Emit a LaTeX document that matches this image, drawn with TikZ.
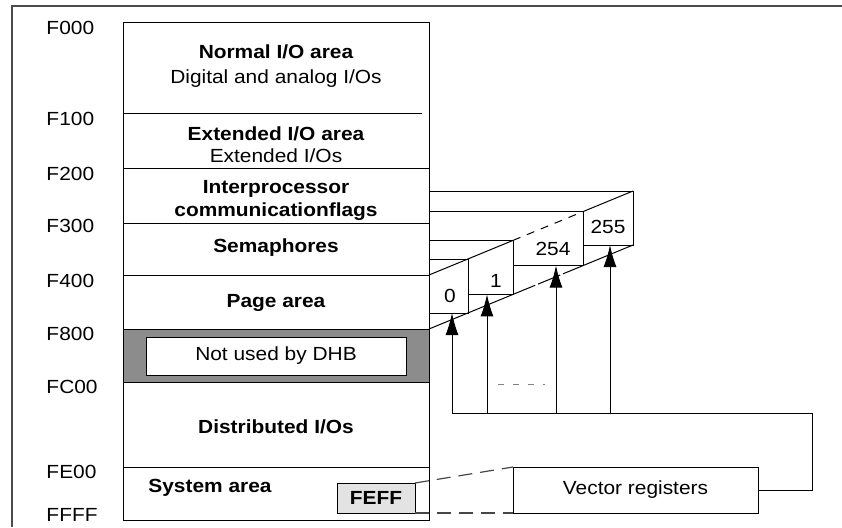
\documentclass[tikz,border=0pt]{standalone}
\usepackage{fontspec}
\setmainfont{Liberation Sans}[FakeStretch=1.1]
\usetikzlibrary{arrows.meta,positioning,calc}

\begin{document}
\begin{tikzpicture}[x=0.5pt, y=-0.5pt,
 line width=0.5pt, font=\fontsize{9.5}{11}\selectfont,
 lbl/.style={inner sep=0pt, anchor=base},
 hd/.style={lbl, font=\fontsize{9.5}{11}\selectfont\bfseries},
 box/.style={draw, inner sep=0pt, outer sep=0pt},
 pg/.style={box, fill=white, minimum height=27pt, anchor=north east},
 arr/.style={-{Latex[length=11pt,width=6.5pt]}},
 link/.style={gray!55!black, line width=0.6pt, dash pattern=on 7pt off 4pt}]
\useasboundingbox (0,0) rectangle (842,527);
% cadre
\draw[gray!60!black, line width=1pt] (842,6) -- (12,6) -- (12,527);
% memoire
\node[box, minimum width=153pt, minimum height=249pt, anchor=north west] (mem) at (123,22) {};
\draw[fill=black!45] (123,329) rectangle (429,382);
\draw (123,113) -- (422,113);
\foreach \y in {168,223,275,467} \draw (123,\y) -- (429,\y);
\foreach \y/\a in {34/F000,125/F100,180/F200,232/F300,287/F400,340/F800,393/FC00,478/FE00,521/FFFF}
  \node[lbl, anchor=base west] (\a) at (46,\y) {\a};
\node[hd] (nio) at (276,58) {Normal I/O area};
\node[lbl] (dio) at (276,83) {Digital and analog I/Os};
\node[hd] (eio) at (276,140) {Extended I/O area};
\node[lbl] (eios) at (276,162) {Extended I/Os};
\node[hd] (ipc) at (276,193) {Interprocessor};
\node[hd] (ipcf) at (276,216) {communicationflags};
\node[hd] (sem) at (276,252) {Semaphores};
\node[hd] (pga) at (276,307) {Page area};
\node[box, fill=white, minimum width=130pt, minimum height=19pt] (nub) at (276,356) {Not used by DHB};
\node[hd] (dist) at (276,433) {Distributed I/Os};
\node[hd] (sys) at (210,492) {System area};
\node[box, fill=gray!22, minimum width=39pt, minimum height=15pt, font=\fontsize{9.5}{11}\selectfont\bfseries] (feff) at (376,498) {FEFF};
% pages
\node[pg, minimum width=102pt] (p255) at (633,191) {};
\node[pg, minimum width=77pt] (p254) at (583,211.6) {};
\node[pg, minimum width=42pt] (p1) at (513,240.4) {};
\node[pg, minimum width=19.5pt] (p0) at (468,259) {};
\node[lbl] (n255) at (608,233) {255};
\node[lbl] (n254) at (553,255) {254};
\node[lbl] (n1) at (496,287) {1};
\node[lbl] (n0) at (450,302) {0};
\coordinate (pgt) at (429,275);
\coordinate (pgb) at (429,329);
\draw (pgt) -- (p1.north east);
\draw[dash pattern=on 4pt off 3.5pt] (p1.north east) -- (p254.north east);
\draw (p254.north east) -- (p255.north east);
\draw (pgb) -- (p1.south east);
\draw[dash pattern=on 12pt off 1.5pt] (p1.south east) -- (p254.south east);
\draw (p254.south east) -- (p255.south east);
% registres
\node[box, minimum width=122.5pt, minimum height=23pt] (vec) at (635.5,490) {Vector registers};
\coordinate (b0) at (452,413);
\coordinate (b1) at (487,413);
\coordinate (b254) at (556,413);
\coordinate (b255) at (610,413);
\coordinate (bk) at (812,413);
\draw (vec.east) -| (bk) -- (b0);
\foreach \i in {0,1,254,255} \draw[arr] (b\i) -- (b\i |- p\i.south);
\draw[gray, dash pattern=on 3pt off 4.5pt] (498,384) -- (545,384);
\draw[link] (feff.north east) -- (vec.north west);
\draw[link] (feff.south east) -- (vec.south west);
\end{tikzpicture}
\end{document}
